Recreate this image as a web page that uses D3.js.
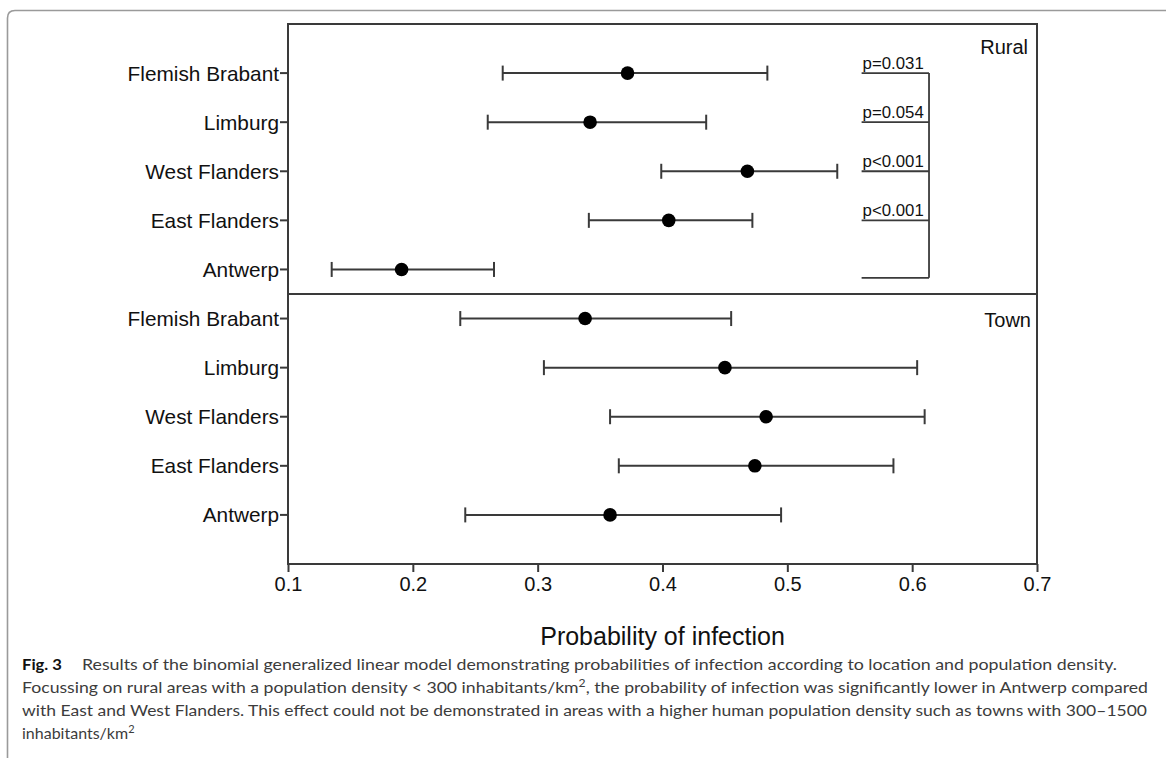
<!DOCTYPE html>
<html>
<head>
<meta charset="utf-8">
<script src="https://cdn.jsdelivr.net/npm/d3@7"></script>
<style>
  html, body { margin: 0; padding: 0; background: #fff; }
  svg { display: block; }
</style>
</head>
<body>
<svg id="chart" width="1166" height="758"></svg>
<script>
// ---------- data ----------
const provinces = ["Flemish Brabant", "Limburg", "West Flanders", "East Flanders", "Antwerp"];
const ruralEst  = [0.372, 0.342, 0.468, 0.405, 0.191];
const ruralLow  = [0.272, 0.260, 0.399, 0.341, 0.135];
const ruralHigh = [0.484, 0.435, 0.540, 0.472, 0.265];
const townEst   = [0.338, 0.450, 0.483, 0.474, 0.358];
const townLow   = [0.238, 0.305, 0.358, 0.365, 0.242];
const townHigh  = [0.455, 0.604, 0.610, 0.585, 0.495];
const pLabels   = ["p=0.031", "p=0.054", "p<0.001", "p<0.001"];
const xTicks    = [0.1, 0.2, 0.3, 0.4, 0.5, 0.6, 0.7];
const panelNames = ["Rural", "Town"];
const axisTitle = "Probability of infection";

// ---------- layout ----------
const svg = d3.select("#chart");
const L = 288, R = 1037, T = 24, B = 564;
const x = d3.scaleLinear().domain([0.1, 0.7]).range([L, R]);
const y = d3.scaleLinear().domain([0, 11]).range([T, B]);
const ink = "#3a3a3a";
const font = "'Liberation Sans', Arial, sans-serif";

// outer rounded border of the figure
svg.append("path")
  .attr("d", "M7.5,770 V18 Q7.5,10.5 15,10.5 H1170")
  .attr("fill", "none").attr("stroke", "#9a9a9a").attr("stroke-width", 1.6);

// rows: rural at positions 1..5, town at 6..10, divider at 5.5
const rows = [];
provinces.forEach((p, i) => rows.push({name: p, pos: i + 1, est: ruralEst[i], lo: ruralLow[i], hi: ruralHigh[i]}));
provinces.forEach((p, i) => rows.push({name: p, pos: i + 6, est: townEst[i], lo: townLow[i], hi: townHigh[i]}));

// frame
svg.append("rect").attr("x", L).attr("y", T).attr("width", R - L).attr("height", B - T)
  .attr("fill", "none").attr("stroke", ink).attr("stroke-width", 2);
svg.append("line").attr("x1", L).attr("x2", R).attr("y1", y(5.5)).attr("y2", y(5.5))
  .attr("stroke", ink).attr("stroke-width", 2);

// y tick marks and labels
const yl = svg.append("g");
rows.forEach(r => {
  yl.append("line").attr("x1", L - 8).attr("x2", L).attr("y1", y(r.pos)).attr("y2", y(r.pos))
    .attr("stroke", ink).attr("stroke-width", 2);
  yl.append("text").attr("x", L - 9).attr("y", y(r.pos)).attr("dy", "0.36em")
    .attr("text-anchor", "end").attr("font-family", font).attr("font-size", 20.8)
    .attr("fill", "#111").text(r.name);
});

// x axis
const xa = svg.append("g").attr("transform", `translate(0,${B})`)
  .call(d3.axisBottom(x).tickValues(xTicks).tickFormat(d3.format(".1f")).tickSize(8).tickPadding(5));
xa.select(".domain").remove();
xa.selectAll(".tick line").attr("stroke", ink).attr("stroke-width", 2);
xa.selectAll(".tick text").attr("font-family", font).attr("font-size", 20).attr("fill", "#111");

svg.append("text").attr("x", (L + R) / 2).attr("y", 645).attr("text-anchor", "middle")
  .attr("font-family", font).attr("font-size", 25).attr("fill", "#111").text(axisTitle);

// error bars
const g = svg.append("g");
rows.forEach(r => {
  const yy = y(r.pos);
  g.append("line").attr("x1", x(r.lo)).attr("x2", x(r.hi)).attr("y1", yy).attr("y2", yy)
    .attr("stroke", ink).attr("stroke-width", 2);
  [r.lo, r.hi].forEach(v => g.append("line").attr("x1", x(v)).attr("x2", x(v))
    .attr("y1", yy - 7.5).attr("y2", yy + 7.5).attr("stroke", ink).attr("stroke-width", 2));
  g.append("circle").attr("cx", x(r.est)).attr("cy", yy).attr("r", 6.8).attr("fill", "#000");
});

// significance brackets (rural panel)
const bx0 = x(0.5595), bx1 = x(0.6135);
const bracketRows = [1, 2, 3, 4, 5.17];
bracketRows.forEach(p => svg.append("line").attr("x1", bx0).attr("x2", bx1)
  .attr("y1", y(p)).attr("y2", y(p)).attr("stroke", ink).attr("stroke-width", 1.8));
svg.append("line").attr("x1", bx1).attr("x2", bx1).attr("y1", y(1)).attr("y2", y(5.17))
  .attr("stroke", ink).attr("stroke-width", 1.8);
pLabels.forEach((t, i) => svg.append("text").attr("x", bx0 + 1).attr("y", y(i + 1) - 4)
  .attr("font-family", font).attr("font-size", 16.8).attr("fill", "#111").text(t));

// panel names
svg.append("text").attr("x", 1028).attr("y", 54).attr("text-anchor", "end")
  .attr("font-family", font).attr("font-size", 20).attr("fill", "#111").text(panelNames[0]);
svg.append("text").attr("x", 1031).attr("y", 327).attr("text-anchor", "end")
  .attr("font-family", font).attr("font-size", 20).attr("fill", "#111").text(panelNames[1]);

// caption
const capFont = "Lato, 'Noto Sans', sans-serif";
const cap = svg.append("g").attr("font-family", capFont).attr("font-size", 16).attr("fill", "#3c3c3c");
const cy0 = 670, dl = 23;
cap.append("text").attr("x", 22).attr("y", cy0).attr("font-weight", "bold").attr("fill", "#111")
  .attr("textLength", 40).attr("lengthAdjust", "spacingAndGlyphs").text("Fig. 3");
cap.append("text").attr("x", 82).attr("y", cy0).attr("textLength", 1035).attr("lengthAdjust", "spacingAndGlyphs")
  .text("Results of the binomial generalized linear model demonstrating probabilities of infection according to location and population density.");
const l2 = cap.append("text").attr("x", 22).attr("y", cy0 + dl).attr("textLength", 1126).attr("lengthAdjust", "spacingAndGlyphs");
l2.append("tspan").text("Focussing on rural areas with a population density < 300 inhabitants/km");
l2.append("tspan").attr("dy", -6).attr("font-size", 11).text("2");
l2.append("tspan").attr("dy", 6).text(", the probability of infection was significantly lower in Antwerp compared");
cap.append("text").attr("x", 22).attr("y", cy0 + 2 * dl).attr("textLength", 1125).attr("lengthAdjust", "spacingAndGlyphs")
  .text("with East and West Flanders. This effect could not be demonstrated in areas with a higher human population density such as towns with 300\u20131500");
const l4 = cap.append("text").attr("x", 22).attr("y", cy0 + 3 * dl);
l4.append("tspan").text("inhabitants/km");
l4.append("tspan").attr("dy", -6).attr("font-size", 11).text("2");
</script>
</body>
</html>
